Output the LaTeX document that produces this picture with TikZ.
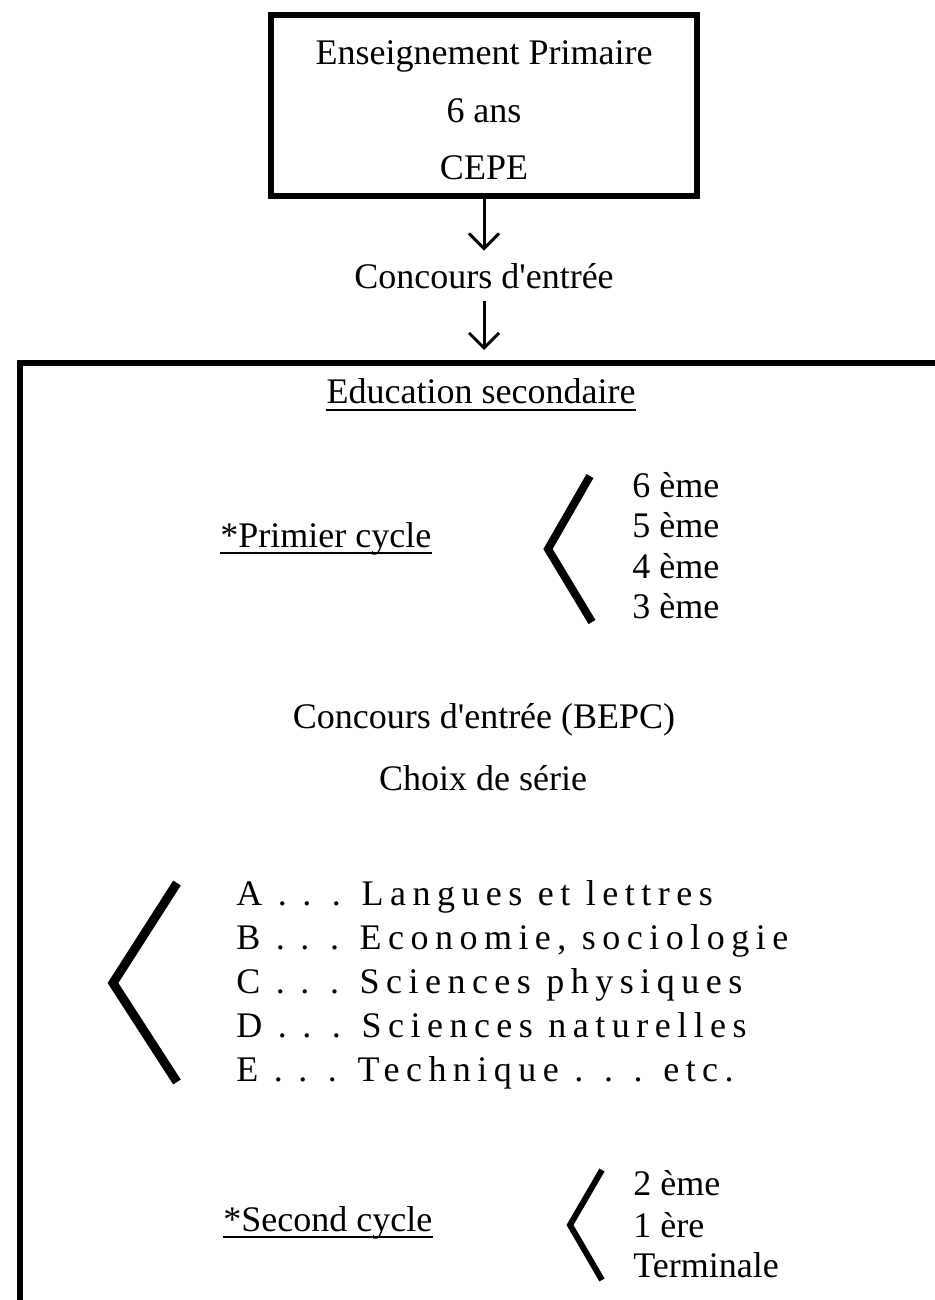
\documentclass[tikz,border=0pt]{standalone}
\usepackage{fontspec}
\setmainfont{Liberation Serif}[Ligatures=TeXOff]
\usetikzlibrary{arrows.meta,positioning}

\begin{document}
\begin{tikzpicture}[x=0.5pt,y=-0.5pt,
  texte/.style={font=\fontsize{18}{28.75}\selectfont,inner sep=0pt},
  serie/.style={texte,font=\fontsize{18}{22}\selectfont\addfontfeature{LetterSpace=18}},
  cadre/.style={draw,line width=3pt},
  fleche/.style={-{Straight Barb[length=7.5pt,width=15pt]},line width=1.5pt},
  souligne/.style={line width=1pt},
  chevron/.style={line width=4pt,line join=miter}]

  \useasboundingbox (0,0) rectangle (934,1300);

  \node[cadre,texte,align=center,minimum width=213pt,minimum height=90.5pt] (primaire) at (484,105.5)
    {\rule{0pt}{17pt}Enseignement Primaire\\6 ans\\CEPE};
  \node[texte,inner sep=6pt,anchor=base] (concours) at (484,288) {Concours d'entrée};
  \node[cadre,anchor=north west,minimum width=480pt,minimum height=500pt] (secondaire) at (17,360) {};

  \draw[fleche] (primaire.south) -- (concours.north);
  \draw[fleche,shorten >=5pt] (concours.south) -- (concours.south |- secondaire.north);

  \node[texte,anchor=base] (education) at (481,403) {Education secondaire};
  \draw[souligne] ([yshift=-3.5pt]education.base west) -- ([yshift=-3.5pt]education.base east);

  \node[texte,anchor=base west] (premier) at (220,547) {*Primier cycle};
  \draw[souligne] ([yshift=-3pt]premier.base west) -- ([yshift=-3pt]premier.base east);
  \draw[chevron] (590,476) -- (548,549) -- (592,622);
  \node[texte,anchor=base west] (sixieme) at (632,497) {6 ème};
  \node[texte,anchor=base west] (cinquieme) at (632,537) {5 ème};
  \node[texte,anchor=base west] (quatrieme) at (632,578) {4 ème};
  \node[texte,anchor=base west] (troisieme) at (632,618) {3 ème};

  \node[texte,anchor=base] (bepc) at (484,728) {Concours d'entrée (BEPC)};
  \node[texte,anchor=base] (choix) at (483,790) {Choix de série};

  \draw[chevron,line width=4.5pt] (177,883) -- (113,983) -- (177,1082);
  \node[serie,anchor=base west] (serieA) at (236,905) {A . . . Langues et lettres};
  \node[serie,anchor=base west] (serieB) at (236,949) {B . . . Economie, sociologie};
  \node[serie,anchor=base west] (serieC) at (236,993) {C . . . Sciences physiques};
  \node[serie,anchor=base west] (serieD) at (236,1037) {D . . . Sciences naturelles};
  \node[serie,anchor=base west] (serieE) at (236,1081) {E . . . Technique . . . etc.};

  \node[texte,anchor=base west] (second) at (223,1231) {*Second cycle};
  \draw[souligne] ([yshift=-3pt]second.base west) -- ([yshift=-3pt]second.base east);
  \draw[chevron,line width=3pt] (602,1170) -- (570,1225) -- (602,1280);
  \node[texte,anchor=base west] (deuxieme) at (633,1195) {2 ème};
  \node[texte,anchor=base west] (premiere) at (633,1237) {1 ère};
  \node[texte,anchor=base west] (terminale) at (633,1277) {Terminale};

\end{tikzpicture}
\end{document}
